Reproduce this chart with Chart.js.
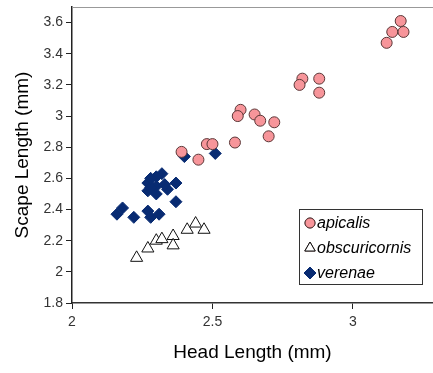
<!DOCTYPE html>
<html>
<head>
<meta charset="utf-8">
<script src="https://cdn.jsdelivr.net/npm/chart.js@4.4.0/dist/chart.umd.min.js"></script>
<style>
  html, body { margin: 0; padding: 0; background: #fff; }
  #wrap { width: 433px; height: 373px; }
</style>
</head>
<body>
<div id="wrap"><canvas id="scapeChart" width="433" height="373"></canvas></div>
<script>
// values: head length (x) vs scape length (y), mm
const apicalisX = [2.39, 2.45, 2.48, 2.50, 2.58, 2.60, 2.59, 2.65, 2.67, 2.72, 2.70, 2.82, 2.81, 2.88, 2.88, 3.17, 3.14, 3.18, 3.12];
const apicalisY = [2.77, 2.72, 2.82, 2.82, 2.83, 3.04, 3.00, 3.01, 2.97, 2.96, 2.87, 3.24, 3.20, 3.24, 3.15, 3.61, 3.54, 3.54, 3.47];

const obscuricornisX = [2.23, 2.27, 2.30, 2.32, 2.36, 2.36, 2.41, 2.44, 2.47];
const obscuricornisY = [2.09, 2.15, 2.20, 2.21, 2.23, 2.17, 2.27, 2.31, 2.27];

const verenaeX = [2.16, 2.18, 2.22, 2.27, 2.28, 2.31, 2.37, 2.37, 2.34, 2.33, 2.32, 2.30, 2.27, 2.27, 2.30, 2.30, 2.28, 2.28, 2.40, 2.51];
const verenaeY = [2.37, 2.41, 2.35, 2.39, 2.35, 2.37, 2.45, 2.57, 2.53, 2.56, 2.63, 2.61, 2.57, 2.52, 2.50, 2.55, 2.54, 2.60, 2.74, 2.76];

const xTicks = [2, 2.5, 3];
const yTicks = [1.8, 2, 2.2, 2.4, 2.6, 2.8, 3, 3.2, 3.4, 3.6];

function toPoints(xs, ys) {
    return xs.map((x, i) => ({ x: x, y: ys[i] }));
}

// small legend box drawn inside the plot, plus the grey top border of the plot area
const boxLegend = {
    id: 'boxLegend',
    afterDraw(chart) {
        const ctx = chart.ctx;
        const area = chart.chartArea;
        ctx.save();
        ctx.strokeStyle = '#999';
        ctx.lineWidth = 1;
        ctx.beginPath();
        ctx.moveTo(area.left, area.top + 0.5);
        ctx.lineTo(area.right, area.top + 0.5);
        ctx.stroke();

        const left = 299, top = 209, w = 123, h = 75;
        ctx.strokeStyle = '#333';
        ctx.strokeRect(left + 0.5, top + 0.5, w, h);
        ctx.font = 'italic 16px "Liberation Sans", Arial, sans-serif';
        ctx.textBaseline = 'middle';
        chart.data.datasets.forEach((ds, i) => {
            const cy = top + 14 + i * 25;
            Chart.helpers.drawPoint(ctx, {
                pointStyle: ds.pointStyle,
                radius: ds.pointStyle === 'circle' ? 5 : 6,
                borderWidth: 1
            }, left + 11, cy);
            ctx.fillStyle = ds.backgroundColor;
            ctx.strokeStyle = ds.borderColor;
            ctx.lineWidth = 1;
            ctx.fill();
            ctx.stroke();
            ctx.fillStyle = '#000';
            ctx.fillText(ds.label, left + 18, cy + 1);
        });
        ctx.restore();
    }
};

const tickFont = { size: 14, family: '"Liberation Sans", Arial, sans-serif' };
const titleFont = { size: 19, family: '"Liberation Sans", Arial, sans-serif' };

const ctx = document.getElementById('scapeChart').getContext('2d');
new Chart(ctx, {
    type: 'scatter',
    data: {
        datasets: [{
            label: 'apicalis',
            data: toPoints(apicalisX, apicalisY),
            pointStyle: 'circle',
            pointRadius: 5.5,
            backgroundColor: '#f7959a',
            borderColor: '#5a3636',
            borderWidth: 1
        }, {
            label: 'obscuricornis',
            data: toPoints(obscuricornisX, obscuricornisY),
            pointStyle: 'triangle',
            pointRadius: 7,
            backgroundColor: '#ffffff',
            borderColor: '#111111',
            borderWidth: 1
        }, {
            label: 'verenae',
            data: toPoints(verenaeX, verenaeY),
            pointStyle: 'rectRot',
            pointRadius: 6,
            backgroundColor: '#082b72',
            borderColor: '#082b72',
            borderWidth: 1
        }]
    },
    options: {
        responsive: false,
        animation: false,
        layout: { autoPadding: false, padding: { top: 7, right: 0, left: 0, bottom: 0 } },
        plugins: {
            legend: { display: false },
            tooltip: { enabled: false }
        },
        scales: {
            x: {
                type: 'linear',
                min: 2,
                max: 3.285,
                afterBuildTicks: s => { s.ticks = xTicks.map(v => ({ value: v })); },
                afterFit: s => { s.height = 70; s.paddingLeft = 0; s.paddingRight = 0; },
                grid: { drawOnChartArea: false, drawTicks: true, tickLength: 6, color: '#222' },
                border: { color: '#333', width: 1.5 },
                ticks: { color: '#333', padding: 5, font: tickFont, callback: v => String(v) },
                title: {
                    display: true,
                    text: 'Head Length (mm)',
                    color: '#000',
                    padding: { top: 0, bottom: 9 },
                    font: titleFont
                }
            },
            y: {
                type: 'linear',
                min: 1.8,
                max: 3.7,
                afterBuildTicks: s => { s.ticks = yTicks.map(v => ({ value: v })); },
                afterFit: s => { s.width = 72; s.paddingTop = 0; s.paddingBottom = 0; },
                grid: { drawOnChartArea: false, drawTicks: true, tickLength: 6, color: '#222' },
                border: { color: '#222', width: 1.5 },
                ticks: { color: '#333', padding: 3, font: tickFont, callback: v => String(v) },
                title: {
                    display: true,
                    text: 'Scape Length (mm)',
                    color: '#000',
                    padding: { top: 11, bottom: 0 },
                    font: titleFont
                }
            }
        }
    },
    plugins: [boxLegend]
});
</script>
</body>
</html>
